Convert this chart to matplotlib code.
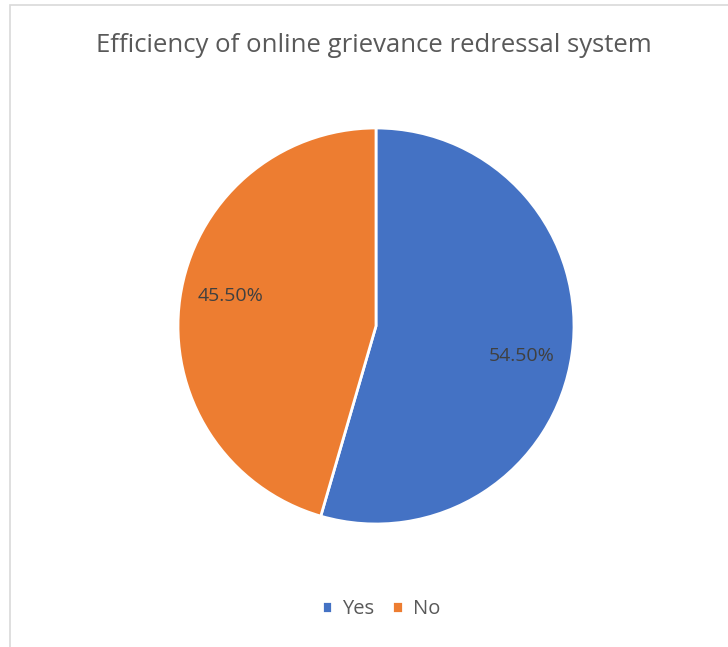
import numpy as np
import matplotlib.pyplot as plt
from matplotlib.patches import Rectangle

labels = ['Yes', 'No']
shares = [54.5, 45.5]
colors = ['#4472C4', '#ED7D31']

plt.rcParams['font.family'] = ['Open Sans', 'DejaVu Sans']

W, H = 728, 647
fig = plt.figure(figsize=(W / 100, H / 100), dpi=100)

# chart area outline (light gray)
fig.patches.append(Rectangle((10 / W, -0.05), 1.2, 1 - 5 / H + 0.05,
                             transform=fig.transFigure, fill=False,
                             edgecolor='#D9D9D9', linewidth=1.2))

cx, cy, r = 376, 326, 198
ax = fig.add_axes([(cx - r) / W, (H - cy - r) / H, 2 * r / W, 2 * r / H])
wedges, texts, autotexts = ax.pie(
    shares, colors=colors, startangle=90, counterclock=False,
    autopct='%.2f%%', pctdistance=0.75, radius=1,
    wedgeprops=dict(edgecolor='white', linewidth=2),
    textprops=dict(color='#404040', fontsize=14))

# nudge the percentage labels a little clockwise
for w, t in zip(wedges, autotexts):
    mid = np.deg2rad((w.theta1 + w.theta2) / 2 - 3.5)
    t.set_position((0.75 * np.cos(mid), 0.75 * np.sin(mid)))

ax.set_xlim(-1, 1)
ax.set_ylim(-1, 1)
ax.set_aspect('equal')
ax.axis('off')

fig.text(374 / W, 1 - 45 / H, 'Efficiency of online grievance redressal system',
         ha='center', va='center', fontsize=18.5, color='#595959')

fig.legend(wedges, labels, loc='center', bbox_to_anchor=(381 / W, 1 - 609 / H),
           ncol=2, frameon=False, fontsize=14.5, labelcolor='#595959',
           handlelength=0.5, handleheight=0.5, handletextpad=0.5,
           columnspacing=0.9)

fig.savefig('out.png', dpi=100)
